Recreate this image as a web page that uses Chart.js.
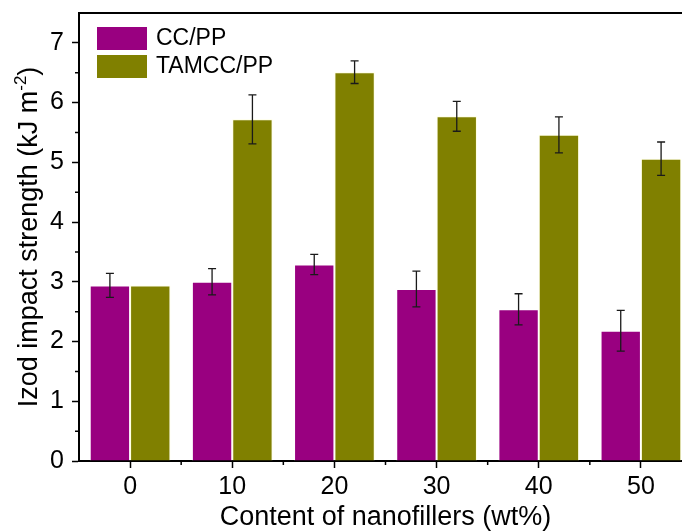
<!DOCTYPE html>
<html>
<head>
<meta charset="utf-8">
<script src="https://cdn.jsdelivr.net/npm/chart.js@4.4.0/dist/chart.umd.min.js"></script>
<style>
    body { margin: 0; overflow: hidden; background: #fff; }
    #grafica { display: block; }
</style>
</head>
<body>
<canvas id="grafica" width="700" height="531"></canvas>
<script>
// Datos
const categorias = ['0', '10', '20', '30', '40', '50'];
const ccpp = [2.94, 3.00, 3.29, 2.88, 2.54, 2.18];
const ccppErr = [0.20, 0.22, 0.17, 0.30, 0.26, 0.34];
const tamcc = [2.94, 5.72, 6.51, 5.77, 5.46, 5.06];
const tamccErr = [0, 0.41, 0.19, 0.25, 0.30, 0.28];
const errores = [ccppErr, tamccErr];

const fuente = '"Liberation Sans", Arial, sans-serif';

// Barras de error
const barrasError = {
    id: 'barrasError',
    afterDatasetsDraw(chart) {
        const ctx = chart.ctx;
        const y = chart.scales.y;
        ctx.save();
        ctx.strokeStyle = '#1a1a1a';
        ctx.lineWidth = 1.3;
        chart.data.datasets.forEach((ds, i) => {
            const meta = chart.getDatasetMeta(i);
            meta.data.forEach((barra, j) => {
                const err = errores[i][j];
                if (!err) return;
                const arriba = y.getPixelForValue(ds.data[j] + err);
                const abajo = y.getPixelForValue(ds.data[j] - err);
                ctx.beginPath();
                ctx.moveTo(barra.x, arriba);
                ctx.lineTo(barra.x, abajo);
                ctx.moveTo(barra.x - 4, arriba);
                ctx.lineTo(barra.x + 4, arriba);
                ctx.moveTo(barra.x - 4, abajo);
                ctx.lineTo(barra.x + 4, abajo);
                ctx.stroke();
            });
        });
        ctx.restore();
    }
};

// Marco superior, ticks menores, leyenda y titulos
const decoracion = {
    id: 'decoracion',
    afterDraw(chart) {
        const ctx = chart.ctx;
        const area = chart.chartArea;
        const x = chart.scales.x;
        const y = chart.scales.y;
        ctx.save();
        ctx.strokeStyle = '#000';

        // linea superior
        ctx.lineWidth = 2;
        ctx.beginPath();
        ctx.moveTo(area.left - 1, area.top);
        ctx.lineTo(area.right, area.top);
        ctx.stroke();

        // ticks menores
        ctx.lineWidth = 1.5;
        ctx.beginPath();
        for (let v = 0.5; v < 7.5; v += 1) {
            const py = y.getPixelForValue(v);
            ctx.moveTo(area.left, py);
            ctx.lineTo(area.left - 4, py);
        }
        for (let i = 0; i < categorias.length; i++) {
            const px = (x.getPixelForValue(i) + x.getPixelForValue(i + 1)) / 2;
            ctx.moveTo(px, area.bottom);
            ctx.lineTo(px, area.bottom + 4);
        }
        ctx.stroke();

        // leyenda
        ctx.font = '23px ' + fuente;
        ctx.textBaseline = 'middle';
        ctx.textAlign = 'left';
        chart.data.datasets.forEach((ds, i) => {
            const top = 27 + i * 28;
            ctx.fillStyle = ds.backgroundColor;
            ctx.fillRect(97, top, 50, 23);
            ctx.fillStyle = '#000';
            ctx.fillText(ds.label, 156, top + 12);
        });

        // titulo eje x
        ctx.font = '27px ' + fuente;
        ctx.textAlign = 'center';
        ctx.fillText('Content of nanofillers (wt%)', (area.left + area.right) / 2, 518);

        // titulo eje y con superindice
        const principal = 'Izod impact strength (kJ m';
        const sup = '-2';
        const cierre = ')';
        ctx.font = '27px ' + fuente;
        const w1 = ctx.measureText(principal).width;
        const w3 = ctx.measureText(cierre).width;
        ctx.font = '17px ' + fuente;
        const w2 = ctx.measureText(sup).width;
        const total = w1 + w2 + w3;
        ctx.translate(30, (area.top + area.bottom) / 2);
        ctx.rotate(-Math.PI / 2);
        ctx.textAlign = 'left';
        ctx.font = '27px ' + fuente;
        ctx.fillText(principal, -total / 2, 0);
        ctx.font = '17px ' + fuente;
        ctx.fillText(sup, -total / 2 + w1, -9);
        ctx.font = '27px ' + fuente;
        ctx.fillText(cierre, -total / 2 + w1 + w2, 0);
        ctx.restore();
    }
};

function iniciarGrafica() {
    const ctx = document.getElementById('grafica').getContext('2d');
    new Chart(ctx, {
        type: 'bar',
        data: {
            labels: categorias,
            datasets: [{
                label: 'CC/PP',
                data: ccpp,
                backgroundColor: '#990080',
                borderColor: 'rgba(255, 255, 255, 0.55)',
                borderWidth: 1
            }, {
                label: 'TAMCC/PP',
                data: tamcc,
                backgroundColor: '#808000',
                borderColor: 'rgba(255, 255, 200, 0.55)',
                borderWidth: 1
            }]
        },
        options: {
            responsive: false,
            devicePixelRatio: 1,
            animation: false,
            layout: { padding: { left: 0, top: 13, right: 8, bottom: 0 } },
            datasets: {
                bar: { categoryPercentage: 0.79, barPercentage: 1 }
            },
            plugins: {
                legend: { display: false },
                tooltip: { enabled: false }
            },
            scales: {
                x: {
                    afterFit: s => {
                        s.height = 70;
                        s.paddingLeft = 0;
                        s.paddingRight = 0;
                    },
                    grid: {
                        offset: false,
                        drawOnChartArea: false,
                        tickLength: 7,
                        tickWidth: 1.5,
                        tickColor: '#000'
                    },
                    border: { color: '#000', width: 2 },
                    ticks: {
                        color: '#000',
                        padding: 4,
                        font: { family: fuente, size: 25 }
                    }
                },
                y: {
                    min: 0,
                    max: 7.5,
                    afterFit: s => {
                        s.width = 79;
                        s.paddingTop = 0;
                        s.paddingBottom = 0;
                    },
                    grid: {
                        drawOnChartArea: false,
                        tickLength: 7,
                        tickWidth: 1.5,
                        tickColor: c => Number.isInteger(c.tick.value) ? '#000' : 'rgba(0,0,0,0)'
                    },
                    border: { color: '#000', width: 2 },
                    ticks: {
                        stepSize: 0.5,
                        color: '#000',
                        padding: 8,
                        font: { family: fuente, size: 25 },
                        callback: v => (Number.isInteger(v) && v <= 7) ? v : ''
                    }
                }
            }
        },
        plugins: [barrasError, decoracion]
    });
}

iniciarGrafica();
</script>
</body>
</html>
